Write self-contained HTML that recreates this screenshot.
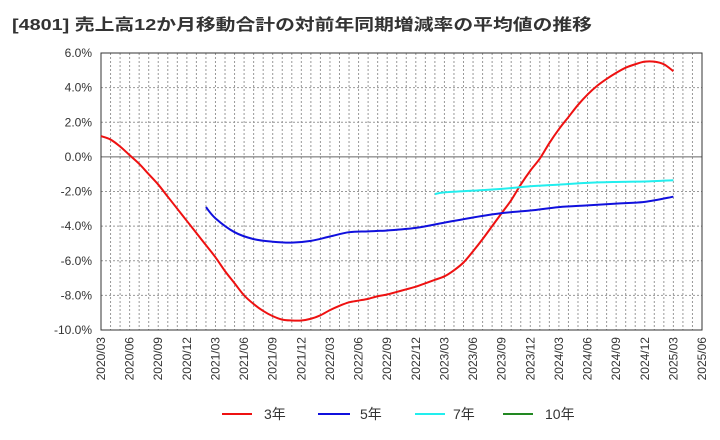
<!DOCTYPE html>
<html><head><meta charset="utf-8"><style>
body{margin:0;background:#fff;}
svg{display:block;font-family:"Liberation Sans","Noto Sans CJK JP",sans-serif;}
</style></head><body>
<svg width="720" height="440" viewBox="0 0 720 440">
<text x="12" y="30" font-size="16" font-weight="bold" fill="#333" textLength="580" lengthAdjust="spacingAndGlyphs">[4801]  売上高12か月移動合計の対前年同期増減率の平均値の推移</text>
<g id="grid"></g><g id="axes"></g><g id="series"></g>
<g>
<line x1="222" y1="414" x2="252" y2="414" stroke="#ee1111" stroke-width="2"/>
<text x="264" y="419" font-size="14" fill="#333">3年</text>
<line x1="318" y1="414" x2="350" y2="414" stroke="#1010dd" stroke-width="2"/>
<text x="360" y="419" font-size="14" fill="#333">5年</text>
<line x1="415" y1="414" x2="445" y2="414" stroke="#22eeee" stroke-width="2"/>
<text x="453" y="419" font-size="14" fill="#333">7年</text>
<line x1="503" y1="414" x2="533" y2="414" stroke="#228822" stroke-width="2"/>
<text x="545" y="419" font-size="14" fill="#333">10年</text>
</g>
</svg>
<script>
const xLabels=["2020/03","2020/06","2020/09","2020/12","2021/03","2021/06","2021/09","2021/12","2022/03","2022/06","2022/09","2022/12","2023/03","2023/06","2023/09","2023/12","2024/03","2024/06","2024/09","2024/12","2025/03","2025/06"];
const yTicks=[6,4,2,0,-2,-4,-6,-8,-10];
const red3Months=[0,1,2,3,4,5,6,7,8,9,10,11,12,13,14,15,16,17,18,19,20,21,22,23,24,25,26,27,28,29,30,31,32,33,34,35,36,37,38,39,40,41,42,43,44,45,46,47,48,49,50,51,52,53,54,55,56,57,58,59,60];
const red3Values=[1.2,1.0,0.6,0.1,-0.4,-1.0,-1.6,-2.3,-3.0,-3.7,-4.4,-5.1,-5.8,-6.6,-7.3,-8.0,-8.5,-8.9,-9.2,-9.4,-9.45,-9.45,-9.35,-9.15,-8.85,-8.6,-8.4,-8.3,-8.2,-8.05,-7.95,-7.8,-7.65,-7.5,-7.3,-7.1,-6.9,-6.55,-6.1,-5.45,-4.75,-4.0,-3.25,-2.5,-1.6,-0.8,-0.1,0.8,1.6,2.3,3.0,3.6,4.1,4.5,4.85,5.15,5.35,5.5,5.5,5.35,4.95];
const blue5Months=[11,12,14,16,18,20,22,24,26,28,30,33,36,39,42,45,48,51,54,57,60];
const blue5Values=[-2.9,-3.55,-4.35,-4.75,-4.9,-4.95,-4.85,-4.6,-4.35,-4.3,-4.25,-4.1,-3.8,-3.5,-3.25,-3.1,-2.9,-2.8,-2.7,-2.6,-2.3];
const cyan7Months=[35,36,39,42,45,48,51,54,57,60];
const cyan7Values=[-2.15,-2.05,-1.95,-1.85,-1.7,-1.6,-1.5,-1.45,-1.42,-1.35];
const NS="http://www.w3.org/2000/svg";
const L=101,R=702,T=53,B=330;
const x=m=>L+m*(R-L)/63;
const y=v=>T+(6-v)*(B-T)/16;
function mk(tag,attrs,parent){const e=document.createElementNS(NS,tag);for(const k in attrs)e.setAttribute(k,attrs[k]);parent.appendChild(e);return e;}
const grid=document.getElementById('grid'),axes=document.getElementById('axes'),series=document.getElementById('series');
for(let m=1;m<63;m++){const l=mk('line',{x1:x(m),x2:x(m),y1:T,y2:B,stroke:'#999','stroke-width':1,'stroke-dasharray':'2,2'},grid);

}
yTicks.forEach(v=>{
 if(v!==6&&v!==-10){const l=mk('line',{x1:L,x2:R,y1:y(v),y2:y(v),stroke:v===0?'#666':'#999','stroke-width':1,'stroke-dasharray':v===0?'':'2,2'},grid);
 
 }
 const t=mk('text',{x:92,y:y(v)+4,'font-size':12,fill:'#333','text-anchor':'end'},axes);t.textContent=v.toFixed(1)+'%';
 
 
});
xLabels.forEach((s,i)=>{const px=x(i*3);const t=mk('text',{x:0,y:0,'font-size':12,fill:'#333','text-anchor':'end',transform:`translate(${px+4},${B+7}) rotate(-90)`},axes);t.textContent=s;
 
 });
const fr=mk('rect',{x:L,y:T,width:R-L,height:B-T,fill:'none',stroke:'#333','stroke-width':1},axes);


function smooth(ms,vs){const p=ms.map((m,i)=>[x(m),y(vs[i])]);let d=`M${p[0][0]},${p[0][1]}`;
 for(let i=0;i<p.length-1;i++){const p0=p[i-1]||p[i],p1=p[i],p2=p[i+1],p3=p[i+2]||p2;
 d+=` C${p1[0]+(p2[0]-p0[0])/6},${p1[1]+(p2[1]-p0[1])/6} ${p2[0]-(p3[0]-p1[0])/6},${p2[1]-(p3[1]-p1[1])/6} ${p2[0]},${p2[1]}`;}return d;}
[[red3Months,red3Values,'#ee1111','line-3y'],[blue5Months,blue5Values,'#1010dd','line-5y'],[cyan7Months,cyan7Values,'#22eeee','line-7y']].forEach(([ms,vs,c,n])=>{
 const p=mk('path',{d:smooth(ms,vs),fill:'none',stroke:c,'stroke-width':2},series);
 
 
});
</script>
</body></html>
